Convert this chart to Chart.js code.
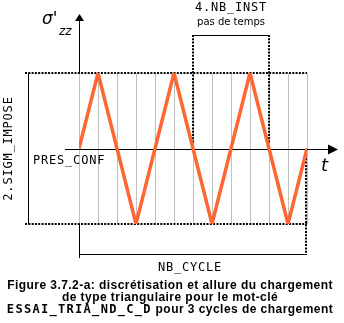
<!DOCTYPE html>
<html><head><meta charset="utf-8">
<script src="https://cdn.jsdelivr.net/npm/chart.js@4"></script>
<style>html,body{margin:0;padding:0;background:#fff}#wrap{width:344px;height:323px}</style>
</head><body><div id="wrap"><canvas id="c" width="344" height="323"></canvas></div>
<script>
const timeSteps = [0,1,2,3,4,5,6,7,8,9,10,11,12];
const sigmaValues = [0,1,0,-1,0,1,0,-1,0,1,0,-1,0];
const instBracket = [6,10];
const labelY = "σ'";
const labelYSub = "zz";
const labelT = "t";
const labelAmp = "2.SIGM_IMPOSE";
const labelPres = "PRES_CONF";
const labelInst = "4.NB_INST";
const labelInstSub = "pas de temps";
const labelCycle = "NB_CYCLE";
const captionLines = [
  [["Figure 3.7.2-a: discrétisation et allure du chargement","sans"]],
  [["de type triangulaire pour le mot-clé","sans"]],
  [["ESSAI_TRIA_ND_C_D","mono"],[" pour 3 cycles de chargement","sans"]]
];

const MONO = '12px "DejaVu Sans Mono"';
const deco = {
  id:'deco',
  beforeDatasetsDraw(chart){
    const ctx=chart.ctx, xs=chart.scales.x, ys=chart.scales.y;
    const X=v=>xs.getPixelForValue(v), Y=v=>ys.getPixelForValue(v);
    const top=Y(1), bot=Y(-1), mid=Y(0), x0=X(0), x12=X(12);
    ctx.save();
    ctx.strokeStyle='#c0c0c0'; ctx.lineWidth=1;
    timeSteps.forEach(t=>{const x=Math.round(X(t))+0.5;ctx.beginPath();ctx.moveTo(x,top);ctx.lineTo(x,bot);ctx.stroke();});
    ctx.strokeStyle='#000'; ctx.lineWidth=2; ctx.setLineDash([2,1.3]);
    ctx.beginPath();ctx.moveTo(25,top);ctx.lineTo(x12,top);ctx.stroke();
    ctx.beginPath();ctx.moveTo(25,bot);ctx.lineTo(x12,bot);ctx.stroke();
    const xa=X(instBracket[0]), xb=X(instBracket[1]);
    ctx.beginPath();ctx.moveTo(xa,35);ctx.lineTo(xa,143);ctx.stroke();
    ctx.beginPath();ctx.moveTo(xb,35);ctx.lineTo(xb,143);ctx.stroke();
    ctx.beginPath();ctx.moveTo(x12-1,155);ctx.lineTo(x12-1,254);ctx.stroke();
    ctx.setLineDash([]);
    ctx.lineWidth=1;
    ctx.beginPath();ctx.moveTo(xa,35.5);ctx.lineTo(xb,35.5);ctx.stroke();
    const xa0=Math.round(x0)+0.5;
    ctx.beginPath();ctx.moveTo(xa0,20);ctx.lineTo(xa0,top);ctx.stroke();
    ctx.beginPath();ctx.moveTo(xa0-4.5,21);ctx.lineTo(xa0+4.5,21);ctx.lineTo(xa0,14);ctx.closePath();ctx.fillStyle='#000';ctx.fill();
    ctx.beginPath();ctx.moveTo(xa0,bot);ctx.lineTo(xa0,258);ctx.stroke();
    ctx.beginPath();ctx.moveTo(x0,254.5);ctx.lineTo(x12,254.5);ctx.stroke();
    ctx.beginPath();ctx.moveTo(28.5,top);ctx.lineTo(28.5,bot);ctx.stroke();
    const ym=Math.round(mid)+0.5;
    ctx.beginPath();ctx.moveTo(65,ym);ctx.lineTo(330,ym);ctx.stroke();
    ctx.beginPath();ctx.moveTo(328,ym-5);ctx.lineTo(338,ym);ctx.lineTo(328,ym+5);ctx.closePath();ctx.fill();
    ctx.fillStyle='#000';
    ctx.font=MONO; ctx.letterSpacing='0.8px'; ctx.textBaseline='middle'; ctx.textAlign='left';
    ctx.fillText(labelPres,33,161);
    ctx.textAlign='center';
    ctx.fillText(labelInst,(xa+xb)/2,8);
    ctx.fillText(labelCycle,190,268);
    ctx.save();ctx.translate(9,(top+bot)/2);ctx.rotate(-Math.PI/2);ctx.fillText(labelAmp,0,0);ctx.restore();
    ctx.letterSpacing='0px';
    ctx.font='10px "DejaVu Sans"';
    ctx.fillText(labelInstSub,(xa+xb)/2,22);
    ctx.font='italic 17px "DejaVu Sans"';ctx.textAlign='left';
    ctx.fillText(labelY,42,20);
    ctx.font='italic 12px "DejaVu Sans"';
    ctx.fillText(labelYSub,59,32);
    ctx.font='italic 18px "DejaVu Sans"';
    ctx.fillText(labelT,321,166);
    const fonts={sans:['bold 12px "Liberation Sans"','0.45px'],mono:['bold 12px "DejaVu Sans Mono"','1.3px']};
    const ys3=[286,298,310];
    captionLines.forEach((line,i)=>{
      let w=0; line.forEach(([s,f])=>{ctx.font=fonts[f][0];ctx.letterSpacing=fonts[f][1];w+=ctx.measureText(s).width;});
      let x=170-w/2; ctx.textAlign='left';
      line.forEach(([s,f])=>{ctx.font=fonts[f][0];ctx.letterSpacing=fonts[f][1];ctx.fillText(s,x,ys3[i]);x+=ctx.measureText(s).width;});
    });
    ctx.restore();
  }
};

new Chart(document.getElementById('c'),{
  type:'line',
  data:{labels:timeSteps,datasets:[{data:timeSteps.map((t,i)=>({x:t,y:sigmaValues[i]})),borderColor:'#ff6633',borderWidth:3.5,pointRadius:0,tension:0,fill:false,borderJoinStyle:'miter'}]},
  options:{responsive:false,animation:false,
    layout:{padding:{left:79,right:37,top:73,bottom:99}},
    plugins:{legend:{display:false},tooltip:{enabled:false},title:{display:false}},
    scales:{x:{type:'linear',min:0,max:12,display:false},y:{min:-1,max:1,display:false}}
  },
  plugins:[deco]
});
</script></body></html>
